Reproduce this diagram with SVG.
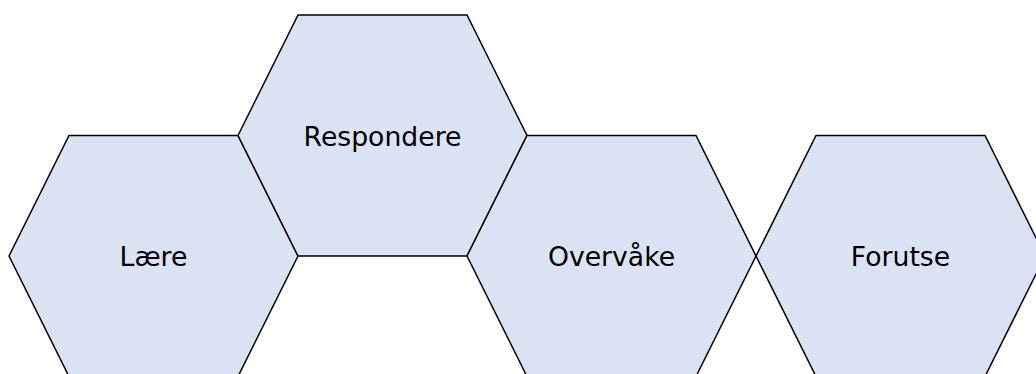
<svg xmlns="http://www.w3.org/2000/svg" width="1036" height="374" viewBox="0 0 1036 374">
  <style>
    .hex { fill: #dae3f3; stroke: #000000; stroke-width: 1.5; stroke-linejoin: miter; }
    .label { font-family: "DejaVu Sans", Verdana, sans-serif; font-size: 26.67px; fill: #000000; text-anchor: middle; }
  </style>
  <rect x="0" y="0" width="1036" height="374" fill="#ffffff"/>
  <g id="node-laere">
    <polygon class="hex" points="9,256 69,135.5 238,135.5 298,256 238,376.5 69,376.5"/>
    <text class="label" x="153.5" y="266">Lære</text>
  </g>
  <g id="node-respondere">
    <polygon class="hex" points="238,135.5 298,15 467,15 527,135.5 467,256 298,256"/>
    <text class="label" x="382.5" y="146">Respondere</text>
  </g>
  <g id="node-overvake">
    <polygon class="hex" points="467,256 527,135.5 696,135.5 756,256 696,376.5 527,376.5"/>
    <text class="label" x="611.5" y="266">Overvåke</text>
  </g>
  <g id="node-forutse">
    <polygon class="hex" points="756,256 816,135.5 985,135.5 1045,256 985,376.5 816,376.5"/>
    <text class="label" x="900.5" y="266">Forutse</text>
  </g>
  <g id="connectors"></g>
</svg>
